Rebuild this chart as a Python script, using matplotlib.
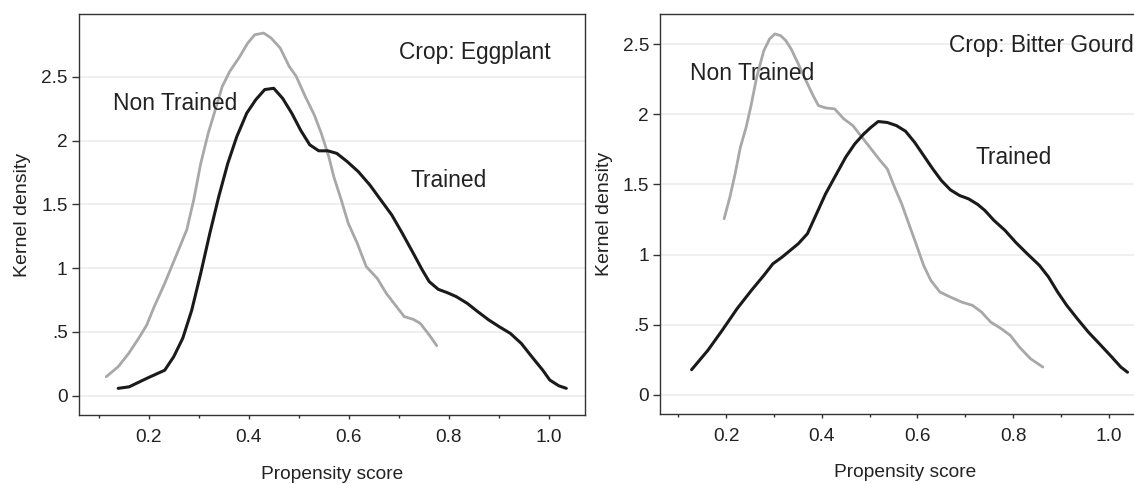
import matplotlib
matplotlib.use("Agg")
import matplotlib.pyplot as plt
from matplotlib.ticker import FixedLocator

plt.rcParams['font.family'] = ['Liberation Sans', 'DejaVu Sans']

# ---- Eggplant ----
egg_trained_x = [0.139, 0.161, 0.196, 0.232, 0.250, 0.268, 0.286, 0.304, 0.322, 0.340, 0.358, 0.376,
                 0.396, 0.414, 0.432, 0.450, 0.468, 0.486, 0.504, 0.522, 0.540, 0.558, 0.576, 0.597,
                 0.619, 0.642, 0.664, 0.686, 0.707, 0.729, 0.747, 0.761, 0.779, 0.797, 0.815, 0.837,
                 0.858, 0.880, 0.901, 0.923, 0.945, 0.966, 0.988, 1.002, 1.020, 1.035]
egg_trained_y = [0.058, 0.070, 0.136, 0.200, 0.306, 0.450, 0.670, 0.960, 1.270, 1.560, 1.820, 2.030,
                 2.215, 2.320, 2.400, 2.410, 2.330, 2.215, 2.080, 1.967, 1.920, 1.920, 1.900, 1.835,
                 1.757, 1.653, 1.535, 1.417, 1.274, 1.117, 0.986, 0.894, 0.834, 0.808, 0.777, 0.724,
                 0.659, 0.594, 0.541, 0.489, 0.410, 0.306, 0.200, 0.123, 0.078, 0.058]
egg_non_x = [0.115, 0.139, 0.160, 0.182, 0.196, 0.211, 0.232, 0.254, 0.276, 0.290, 0.304, 0.319,
             0.333, 0.347, 0.362, 0.380, 0.398, 0.412, 0.430, 0.445, 0.463, 0.481, 0.495, 0.513,
             0.531, 0.545, 0.560, 0.570, 0.585, 0.599, 0.617, 0.635, 0.657, 0.675, 0.693, 0.711,
             0.729, 0.743, 0.761, 0.776]
egg_non_y = [0.149, 0.228, 0.332, 0.463, 0.554, 0.698, 0.881, 1.090, 1.300, 1.535, 1.820, 2.058,
             2.240, 2.424, 2.542, 2.646, 2.764, 2.830, 2.843, 2.803, 2.725, 2.581, 2.503, 2.346,
             2.202, 2.058, 1.875, 1.718, 1.535, 1.352, 1.195, 1.012, 0.920, 0.803, 0.711, 0.620,
             0.599, 0.567, 0.476, 0.392]

# ---- Bitter Gourd ----
bg_trained_x = [0.128, 0.162, 0.192, 0.223, 0.253, 0.279, 0.298, 0.317, 0.351, 0.370, 0.389, 0.408,
                0.431, 0.450, 0.469, 0.488, 0.503, 0.518, 0.537, 0.556, 0.575, 0.594, 0.613, 0.632,
                0.650, 0.669, 0.688, 0.707, 0.726, 0.741, 0.760, 0.783, 0.805, 0.828, 0.855, 0.874,
                0.893, 0.912, 0.934, 0.957, 0.980, 1.003, 1.025, 1.039]
bg_trained_y = [0.178, 0.316, 0.459, 0.613, 0.744, 0.851, 0.934, 0.981, 1.077, 1.148, 1.290, 1.433,
                1.576, 1.694, 1.789, 1.861, 1.908, 1.949, 1.942, 1.920, 1.880, 1.801, 1.706, 1.611,
                1.528, 1.461, 1.421, 1.397, 1.357, 1.314, 1.243, 1.172, 1.088, 1.010, 0.922, 0.839,
                0.732, 0.637, 0.542, 0.447, 0.364, 0.280, 0.197, 0.160]
bg_non_x = [0.196, 0.208, 0.219, 0.230, 0.242, 0.253, 0.264, 0.279, 0.291, 0.302, 0.314, 0.325,
            0.336, 0.351, 0.367, 0.382, 0.393, 0.408, 0.427, 0.446, 0.465, 0.484, 0.503, 0.522,
            0.537, 0.552, 0.567, 0.582, 0.597, 0.613, 0.628, 0.647, 0.669, 0.692, 0.715, 0.734,
            0.753, 0.775, 0.794, 0.813, 0.836, 0.862]
bg_non_y = [1.255, 1.409, 1.576, 1.766, 1.908, 2.075, 2.265, 2.455, 2.538, 2.574, 2.562, 2.526,
            2.467, 2.360, 2.241, 2.134, 2.063, 2.046, 2.039, 1.968, 1.920, 1.837, 1.754, 1.671,
            1.611, 1.481, 1.362, 1.219, 1.077, 0.922, 0.815, 0.732, 0.696, 0.661, 0.637, 0.589,
            0.518, 0.471, 0.423, 0.340, 0.257, 0.197]

y_ticks = [0, 0.5, 1, 1.5, 2, 2.5]
y_tick_labels = ['0', '.5', '1', '1.5', '2', '2.5']
x_ticks = [0.2, 0.4, 0.6, 0.8, 1.0]
x_tick_labels = ['0.2', '0.4', '0.6', '0.8', '1.0']
x_minor = [0.1, 0.3, 0.5, 0.7, 0.9]

BLACK = '#1a1a1a'
GRAY = '#a8a8a8'
TXT = '#222222'

fig = plt.figure(figsize=(11.34, 4.84), dpi=100)
ax1 = fig.add_axes([78.7/1134, 1-415/484, (585.3-78.7)/1134, (415-14.3)/484])
ax2 = fig.add_axes([660/1134, 1-413.7/484, (1150-660)/1134, (413.7-14.3)/484])

def style(ax, xlim, ylim):
    ax.set_xlim(*xlim)
    ax.set_ylim(*ylim)
    ax.set_yticks(y_ticks)
    ax.set_yticklabels(y_tick_labels)
    ax.set_xticks(x_ticks)
    ax.set_xticklabels(x_tick_labels)
    ax.xaxis.set_minor_locator(FixedLocator(x_minor))
    for yv in y_ticks:
        ax.axhline(yv, color='#efefef', lw=1.5, zorder=0)
    for s in ax.spines.values():
        s.set_color('#333333')
        s.set_linewidth(1.0)
    ax.tick_params(axis='y', which='major', length=5, width=1, color='#333333',
                   labelsize=13.7, labelcolor=TXT, pad=3)
    ax.tick_params(axis='x', which='major', length=3.2, width=1, color='#333333',
                   labelsize=13.7, labelcolor=TXT, pad=7)
    ax.tick_params(axis='x', which='minor', length=2.3, width=1, color='#333333')
    ax.set_xlabel('Propensity score', fontsize=13.8, color=TXT, labelpad=14)
    ax.set_ylabel('Kernel density', fontsize=14, color=TXT, labelpad=7)

style(ax1, (0.06, 1.073), (-0.151, 2.99))
ax1.plot(egg_non_x, egg_non_y, color=GRAY, lw=2.0, solid_capstyle='round')
ax1.plot(egg_trained_x, egg_trained_y, color=BLACK, lw=2.2, solid_capstyle='round')
ax1.text(0.70, 2.69, 'Crop: Eggplant', fontsize=16.4, color=TXT, va='center', ha='left')
ax1.text(0.128, 2.29, 'Non Trained', fontsize=16.4, color=TXT, va='center', ha='left')
ax1.text(0.724, 1.684, 'Trained', fontsize=16.4, color=TXT, va='center', ha='left')

style(ax2, (0.062, 1.086), (-0.136, 2.714))
ax2.plot(bg_non_x, bg_non_y, color=GRAY, lw=2.0, solid_capstyle='round')
ax2.plot(bg_trained_x, bg_trained_y, color=BLACK, lw=2.2, solid_capstyle='round')
ax2.text(0.666, 2.49, 'Crop: Bitter Gourd', fontsize=16.4, color=TXT, va='center', ha='left')
ax2.text(0.124, 2.29, 'Non Trained', fontsize=16.4, color=TXT, va='center', ha='left')
ax2.text(0.722, 1.69, 'Trained', fontsize=16.4, color=TXT, va='center', ha='left')

fig.savefig('out.png', dpi=100, facecolor='white')
